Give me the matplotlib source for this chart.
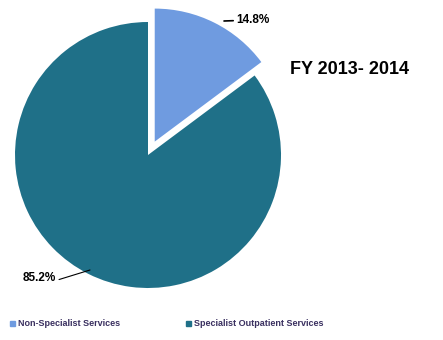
import matplotlib.pyplot as plt
from matplotlib.patches import Rectangle

plt.rcParams['font.family'] = ['Liberation Sans', 'DejaVu Sans']

categories = ['Non-Specialist Services', 'Specialist Outpatient Services']
shares = [14.8, 85.2]
colors = ['#6f9be0', '#1f7088']
explode = [15, 0]  # offsets in data units (pixels here)

fig = plt.figure(figsize=(4.43, 3.4), dpi=100)
ax = fig.add_axes([0, 0, 1, 1])
ax.set_xlim(0, 443)
ax.set_ylim(0, 340)

wedges, _ = ax.pie(shares, colors=colors, startangle=90, counterclock=False,
                   explode=explode, center=(148, 185), radius=133,
                   wedgeprops=dict(linewidth=0), frame=True)
ax.set_xlim(0, 443)
ax.set_ylim(0, 340)
ax.set_aspect('equal')
ax.axis('off')

# percentage labels with short leader lines
ax.annotate(f'{shares[0]:.1f}%', xy=(224, 319), xytext=(236, 320),
            fontsize=8.5, fontweight='bold', va='center', ha='left',
            arrowprops=dict(arrowstyle='-', color='black', lw=1.2,
                            shrinkA=0, shrinkB=0))
ax.annotate(f'{shares[1]:.1f}%', xy=(90, 70), xytext=(23, 62),
            fontsize=8.5, fontweight='bold', va='center', ha='left',
            arrowprops=dict(arrowstyle='-', color='black', lw=0.8,
                            shrinkA=0, shrinkB=0, relpos=(1.0, 0.3)))

ax.text(290, 270, 'FY 2013- 2014', fontsize=13, fontweight='bold',
        va='center', ha='left')

# legend
for x, label, c in zip([10, 186], categories, colors):
    ax.add_patch(Rectangle((x, 14), 5, 5, color=c))
    ax.text(x + 8, 16.5, label, fontsize=6.5, fontweight='bold',
            va='center', ha='left', color='#3a3060')

fig.savefig('out.png', dpi=100)
